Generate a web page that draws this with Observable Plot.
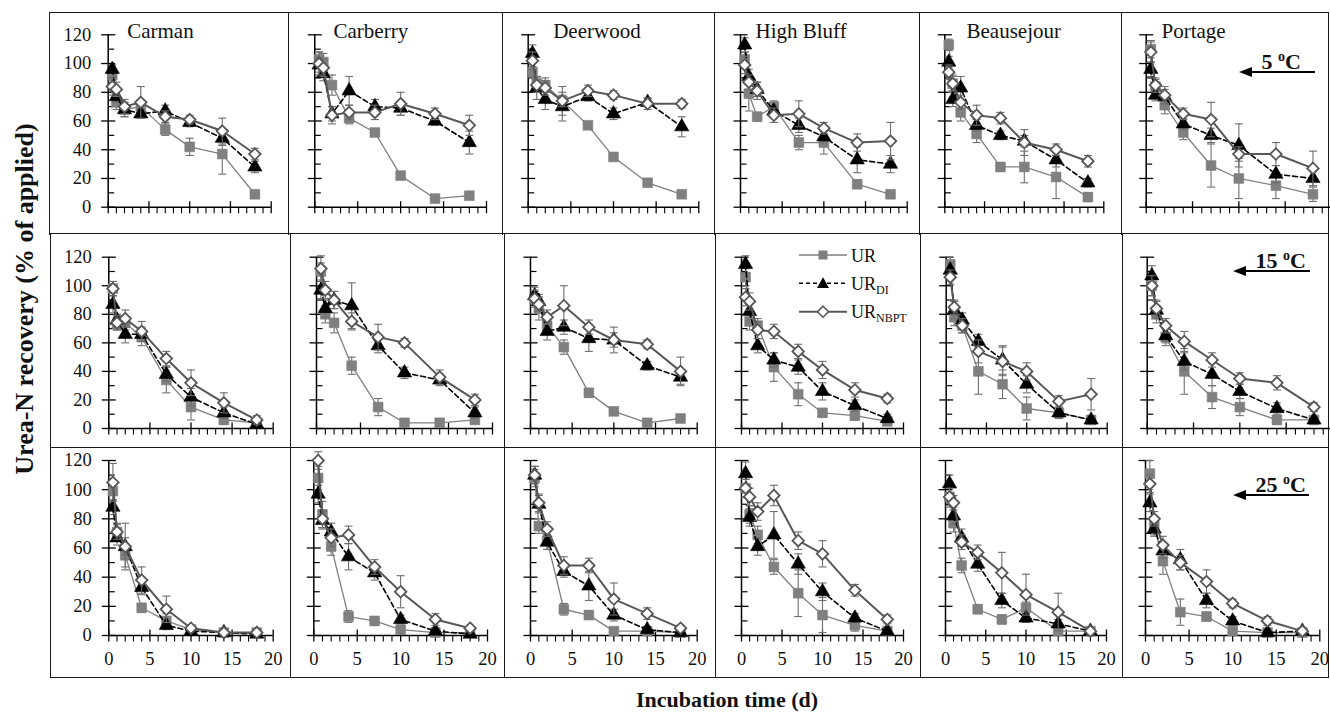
<!DOCTYPE html>
<html><head><meta charset="utf-8">
<script src="https://cdn.jsdelivr.net/npm/d3@7"></script>
<script src="https://cdn.jsdelivr.net/npm/@observablehq/plot@0.6"></script>
<style>
body{margin:0;background:#fff;}
#root{position:relative;width:1330px;height:713px;overflow:hidden;font-family:"Liberation Serif","Times New Roman",serif;color:#111;}
.box{position:absolute;box-sizing:border-box;border-color:#1a1a1a;border-style:solid;border-width:0;}
svg text{font-family:"Liberation Serif","Times New Roman",serif;}
</style></head><body><div id="root"></div>
<script>
// ---------- data ----------
const sites = ["Carman", "Carberry", "Deerwood", "High Bluff", "Beausejour", "Portage"];
const temps = ["5", "15", "25"];
const days = [0.5, 1, 2, 4, 7, 10, 14, 18];
const yTicks = [0, 20, 40, 60, 80, 100, 120];
const yMinor = [10, 30, 50, 70, 90, 110];
const xTicks = [0, 5, 10, 15, 20];
const xMinor = [1, 2, 3, 4, 6, 7, 8, 9, 11, 12, 13, 14, 16, 17, 18, 19];

// UR
const UR_5 = [
  [92, 73, 68, 70, 54, 42, 37, 9],
  [103, 101, 85, 62, 52, 22, 6, 8],
  [94, 86, 85, 74, 57, 35, 17, 9],
  [103, 79, 63, 70, 45, 45, 16, 9],
  [113, 86, 66, 51, 28, 28, 21, 7],
  [110, 84, 71, 52, 29, 20, 15, 9]];
const UR_15 = [
  [98, 73, 74, 64, 34, 15, 6, 4],
  [110, 80, 74, 44, 15, 4, 4, 6],
  [91, 84, 72, 57, 25, 12, 4, 7],
  [106, 75, 72, 43, 24, 11, 9, 5],
  [115, 78, 72, 40, 31, 14, 11, 6],
  [100, 80, 64, 40, 22, 15, 6, 6]];
const UR_25 = [
  [99, 71, 55, 19, 10, 4, 2, 2],
  [108, 83, 61, 13, 10, 4, 2, 2],
  [108, 75, 65, 18, 14, 3, 3, 2],
  [101, 83, 69, 47, 29, 14, 7, 3],
  [95, 77, 48, 18, 11, 19, 3, 3],
  [111, 75, 51, 16, 13, 3, 2, 2]];
// UR_DI
const DI_5 = [
  [96, 77, 68, 65, 67, 59, 48, 28],
  [99, 93, 65, 81, 70, 69, 60, 45],
  [107, 83, 75, 70, 77, 65, 73, 56],
  [113, 91, 82, 67, 57, 49, 33, 30],
  [101, 75, 83, 57, 50, 46, 33, 17],
  [96, 78, 77, 58, 50, 43, 23, 20]];
const DI_15 = [
  [87, 76, 66, 66, 38, 22, 11, 3],
  [97, 84, 90, 86, 58, 39, 34, 11],
  [93, 89, 68, 71, 63, 62, 44, 36],
  [115, 82, 58, 48, 43, 26, 16, 7],
  [111, 83, 76, 61, 48, 31, 11, 6],
  [107, 83, 65, 47, 38, 26, 14, 6]];
const DI_25 = [
  [88, 67, 61, 33, 7, 3, 2, 1],
  [97, 79, 71, 54, 43, 11, 3, 1],
  [110, 90, 64, 44, 34, 14, 4, 2],
  [111, 81, 61, 69, 49, 30, 12, 3],
  [104, 82, 67, 49, 24, 12, 8, 3],
  [91, 73, 58, 52, 24, 10, 2, 3]];
// UR_NBPT
const NB_5 = [
  [84, 82, 70, 73, 63, 61, 53, 37],
  [100, 97, 64, 66, 66, 72, 65, 57],
  [102, 85, 83, 74, 81, 78, 72, 72],
  [99, 87, 81, 64, 65, 55, 45, 46],
  [94, 86, 73, 64, 62, 45, 40, 32],
  [108, 85, 78, 65, 61, 37, 37, 27]];
const NB_15 = [
  [98, 74, 77, 68, 49, 32, 18, 6],
  [112, 97, 90, 75, 64, 60, 36, 20],
  [91, 87, 78, 86, 71, 62, 59, 40],
  [92, 89, 69, 68, 54, 41, 27, 21],
  [106, 85, 72, 54, 47, 40, 19, 24],
  [100, 84, 72, 61, 48, 35, 32, 15]];
const NB_25 = [
  [105, 71, 61, 38, 18, 5, 2, 2],
  [120, 80, 67, 69, 47, 30, 11, 5],
  [110, 91, 73, 48, 48, 25, 15, 5],
  [101, 95, 85, 96, 65, 56, 31, 11],
  [95, 91, 64, 57, 43, 28, 16, 3],
  [104, 80, 62, 50, 37, 22, 10, 3]];
// error bars (half-length)
const UR_5_se = [
  [4, 5, 5, 4, 4, 6, 14, 2], [5, 6, 7, 4, 2, 2, 2, 2], [4, 5, 5, 10, 2, 2, 2, 2],
  [5, 12, 3, 4, 5, 8, 3, 2], [4, 6, 6, 6, 3, 11, 15, 3], [6, 5, 6, 5, 15, 14, 9, 5]];
const UR_15_se = [
  [5, 4, 5, 6, 9, 9, 3, 2], [6, 6, 7, 6, 6, 2, 2, 2], [5, 8, 5, 5, 3, 2, 2, 2],
  [6, 6, 5, 10, 8, 3, 3, 2], [5, 6, 5, 16, 10, 8, 3, 2], [7, 6, 6, 16, 8, 6, 3, 2]];
const UR_25_se = [
  [6, 6, 8, 3, 5, 2, 1, 1], [8, 9, 6, 4, 3, 2, 1, 1], [6, 5, 6, 4, 3, 2, 1, 1],
  [6, 6, 6, 5, 16, 12, 4, 2], [7, 6, 5, 3, 3, 4, 2, 1], [9, 6, 9, 9, 3, 2, 1, 1]];
const DI_5_se = [
  [3, 4, 5, 3, 4, 3, 5, 4], [5, 5, 5, 10, 5, 5, 3, 8], [6, 8, 7, 10, 3, 4, 3, 7],
  [5, 5, 5, 4, 5, 4, 9, 6], [4, 5, 8, 4, 3, 4, 5, 3], [5, 4, 5, 4, 5, 15, 6, 5]];
const DI_15_se = [
  [6, 4, 6, 5, 5, 6, 4, 2], [6, 6, 6, 16, 5, 4, 4, 4], [6, 5, 6, 5, 9, 5, 3, 5],
  [6, 6, 5, 5, 5, 6, 4, 3], [5, 6, 5, 5, 10, 6, 4, 2], [7, 6, 5, 6, 8, 5, 4, 2]];
const DI_25_se = [
  [5, 5, 6, 5, 3, 2, 1, 1], [6, 6, 6, 9, 5, 3, 2, 1], [6, 6, 5, 4, 10, 4, 2, 1],
  [8, 6, 6, 16, 7, 6, 3, 2], [6, 6, 6, 5, 5, 3, 3, 1], [6, 5, 5, 7, 5, 3, 1, 1]];
const NB_5_se = [
  [6, 5, 5, 11, 4, 3, 9, 4], [8, 6, 6, 5, 5, 8, 4, 7], [6, 5, 5, 4, 4, 3, 4, 3],
  [6, 5, 6, 5, 9, 4, 6, 13], [5, 5, 5, 7, 4, 9, 4, 4], [7, 5, 6, 4, 12, 5, 8, 12]];
const NB_15_se = [
  [5, 5, 6, 7, 5, 9, 7, 3], [9, 6, 6, 6, 9, 3, 5, 4], [6, 5, 5, 14, 5, 9, 3, 10],
  [6, 6, 6, 5, 5, 6, 5, 3], [5, 5, 5, 8, 10, 6, 4, 11], [7, 6, 5, 7, 5, 4, 5, 3]];
const NB_25_se = [
  [13, 5, 16, 9, 9, 2, 1, 1], [6, 6, 6, 6, 5, 11, 4, 2], [6, 6, 5, 6, 5, 11, 4, 2],
  [6, 6, 6, 7, 6, 9, 4, 3], [6, 5, 5, 5, 14, 14, 13, 2], [6, 5, 6, 5, 8, 3, 3, 2]];

// ---------- layout ----------
const boxX = [[49, 288, 502, 714, 919, 1121, 1329], [50, 290, 504, 715, 920, 1122, 1329], [50, 290, 504, 715, 920, 1122, 1329]];
const boxY = [[12, 233], [233, 447], [447, 678]];
const axisPxX = [
  [[107.7, 270.7], [314.3, 486], [527.7, 698.3], [740, 906.7], [944.3, 1103.3], [1145.7, 1331]],
  [[108.3, 272.7], [316, 492], [530, 696.7], [741, 903], [945.7, 1106.7], [1146.7, 1332]],
  [[108.3, 272.7], [313.3, 487], [530, 696.7], [741, 903], [945, 1106], [1145, 1319.3]]];
const axisPxY = [[34.3, 206.7], [256.7, 428], [460, 635]];
const titleDx = [19, 18.7, 25, 15, 21.7, 15.3];
const serif = '"Liberation Serif","Times New Roman",serif';
const errC = "#6e6e6e";

const sym = f => ({draw(c) { f(c); }});
const yMajorS = sym(c => { c.moveTo(-7, 0); c.lineTo(7, 0); });
const yMinorS = sym(c => { c.moveTo(0, 0); c.lineTo(6, 0); });
const xMajorS = sym(c => { c.moveTo(0, -6); c.lineTo(0, 6); });
const xMinorS = sym(c => { c.moveTo(0, 0); c.lineTo(0, 6); });
const capS = sym(c => { c.moveTo(-4, 0); c.lineTo(4, 0); });

const series = [
  {vals: [UR_5, UR_15, UR_25], se: [UR_5_se, UR_15_se, UR_25_se], stroke: "#808080", sw: 1.3, dash: undefined, symbol: "square", r: 5.5, fill: "#808080", mstroke: "#7a7a7a", msw: 0.6},
  {vals: [DI_5, DI_15, DI_25], se: [DI_5_se, DI_15_se, DI_25_se], stroke: "#000", sw: 1.6, dash: "5,3", symbol: "triangle", r: 5.3, fill: "#000", mstroke: "#000", msw: 0.6},
  {vals: [NB_5, NB_15, NB_25], se: [NB_5_se, NB_15_se, NB_25_se], stroke: "#575757", sw: 2, dash: undefined, symbol: "diamond2", r: 5.2, fill: "#fff", mstroke: "#575757", msw: 1.8}
];

const root = document.getElementById("root");

for (let r = 0; r < 3; r++) {
  for (let c = 0; c < 6; c++) {
    // box
    const b = document.createElement("div");
    b.className = "box";
    const left = boxX[r][c], right = boxX[r][c + 1];
    const [top, bottom] = boxY[r];
    b.style.left = left + "px"; b.style.top = top + "px";
    b.style.width = (right - left + (c === 5 ? 0 : 1.5)) + "px";
    b.style.height = (bottom - top + (r === 2 ? 0 : 1.5)) + "px";
    b.style.borderLeftWidth = "1.5px"; b.style.borderTopWidth = "1.5px";
    if (c === 5) b.style.borderRightWidth = "1.5px";
    if (r === 2) b.style.borderBottomWidth = "1.5px";
    root.appendChild(b);

    // plot
    const [x0, x20] = axisPxX[r][c];
    const [y120, y0] = axisPxY[r];
    const svgW = Math.max(right - left, Math.ceil(x20 - left + 10));
    const marks = [
      Plot.ruleX([0], {stroke: "#000", strokeWidth: 1.5}),
      Plot.ruleY([0], {stroke: "#000", strokeWidth: 1.5}),
      Plot.dot(yTicks, {x: () => 0, y: d => d, symbol: yMajorS, stroke: "#000", fill: "none", strokeWidth: 1.3}),
      Plot.dot(yMinor, {x: () => 0, y: d => d, symbol: yMinorS, stroke: "#000", fill: "none", strokeWidth: 1.2}),
      Plot.dot(xTicks, {x: d => d, y: () => 0, symbol: xMajorS, stroke: "#000", fill: "none", strokeWidth: 1.3}),
      Plot.dot(xMinor, {x: d => d, y: () => 0, symbol: xMinorS, stroke: "#000", fill: "none", strokeWidth: 1.1})
    ];
    if (c === 0) marks.push(Plot.axisY({ticks: yTicks, tickSize: 0, tickPadding: 17, label: null, fontSize: 18.5, fontFamily: serif}));
    if (r === 2) marks.push(Plot.axisX({ticks: xTicks, tickSize: 0, tickPadding: 16, label: null, fontSize: 18.5, fontFamily: serif}));
    if (r === 0) marks.push(Plot.text([sites[c]], {frameAnchor: "top-left", text: d => d, dx: titleDx[c], dy: -4, lineAnchor: "middle", textAnchor: "start", fontSize: 21, fontFamily: serif, fill: "#111"}));
    for (const s of series) {
      const data = days.map((t, i) => ({t, v: s.vals[r][c][i], e: s.se[r][c][i]}));
      marks.push(
        Plot.ruleX(data, {x: "t", y1: d => d.v - d.e, y2: d => d.v + d.e, stroke: errC, strokeWidth: 1.1}),
        Plot.dot(data, {x: "t", y: d => d.v + d.e, symbol: capS, stroke: errC, fill: "none", strokeWidth: 1.1}),
        Plot.dot(data, {x: "t", y: d => d.v - d.e, symbol: capS, stroke: errC, fill: "none", strokeWidth: 1.1}),
        Plot.line(data, {x: "t", y: "v", stroke: s.stroke, strokeWidth: s.sw, strokeDasharray: s.dash}),
        Plot.dot(data, {x: "t", y: "v", symbol: s.symbol, r: s.r, fill: s.fill, stroke: s.mstroke, strokeWidth: s.msw})
      );
    }
    const svg = Plot.plot({
      width: svgW,
      height: bottom - top,
      marginLeft: x0 - left,
      marginRight: svgW - (x20 - left),
      marginTop: y120 - top,
      marginBottom: bottom - y0,
      x: r === 2 ? {domain: [0, 20]} : {domain: [0, 20], axis: null},
      y: c === 0 ? {domain: [0, 120]} : {domain: [0, 120], axis: null},
      style: {fontFamily: serif, fontSize: "18px", background: "transparent", overflow: "visible", color: "#111"},
      marks
    });
    svg.style.position = "absolute";
    svg.style.left = left + "px";
    svg.style.top = top + "px";
    svg.style.maxWidth = "none";
    root.appendChild(svg);
  }
}

// y-axis title
const yt = document.createElement("div");
yt.style.cssText = "position:absolute;left:25px;top:299px;transform:translate(-50%,-50%) rotate(-90deg);white-space:nowrap;font-weight:bold;font-size:26px;line-height:1;";
yt.textContent = "Urea-N recovery (% of applied)";
root.appendChild(yt);

// x-axis title
const xt = document.createElement("div");
xt.style.cssText = "position:absolute;left:727px;top:700px;transform:translate(-50%,-50%);white-space:nowrap;font-weight:bold;font-size:22px;line-height:1;";
xt.textContent = "Incubation time (d)";
root.appendChild(xt);

// temperature labels
const tempPos = [[1239, 1315, 72.3, 1301], [1233, 1310, 270.7, 1306], [1233, 1309, 495, 1306]];
temps.forEach((t, i) => {
  const [tip, end, ly, tr] = tempPos[i];
  const d = document.createElement("div");
  d.style.cssText = `position:absolute;left:${tip}px;top:${ly - 28}px;width:${end - tip}px;height:34px;`;
  d.innerHTML = `<div style="position:absolute;right:${end - tr}px;bottom:5px;font-weight:bold;font-size:22px;line-height:1;white-space:nowrap;">${t} <span style="font-size:14px;position:relative;top:-8px;">o</span>C</div>
  <div style="position:absolute;left:8px;right:0;top:27px;height:2px;background:#000"></div>
  <div style="position:absolute;left:0;top:23px;width:0;height:0;border-top:5px solid transparent;border-bottom:5px solid transparent;border-right:13px solid #000"></div>`;
  root.appendChild(d);
});

// legend
const legNS = "http://www.w3.org/2000/svg";
const leg = document.createElementNS(legNS, "svg");
leg.setAttribute("width", 150); leg.setAttribute("height", 90);
leg.style.cssText = "position:absolute;left:790px;top:240px;overflow:visible;";
leg.innerHTML = `
<g fill='#111'>
 <line x1="9" x2="57" y1="15" y2="15" stroke="#808080" stroke-width="1.3"/>
 <rect x="28.5" y="10.5" width="9" height="9" fill="#808080"/>
 <text x="61" y="21.5" font-size="18">UR</text>
 <line x1="9" x2="57" y1="43.3" y2="43.3" stroke="#000" stroke-width="1.6" stroke-dasharray="4,3"/>
 <path d="M33,37.3 L39,48 L27,48 Z" fill="#000"/>
 <text x="61" y="49.8" font-size="18">UR<tspan font-size="12" dy="4">DI</tspan></text>
 <line x1="9" x2="57" y1="71.7" y2="71.7" stroke="#575757" stroke-width="2"/>
 <path d="M33,66.2 L38.5,71.7 L33,77.2 L27.5,71.7 Z" fill="#fff" stroke="#575757" stroke-width="1.6"/>
 <text x="61" y="78.2" font-size="18">UR<tspan font-size="12" dy="4">NBPT</tspan></text>
</g>`;
root.appendChild(leg);
</script></body></html>
